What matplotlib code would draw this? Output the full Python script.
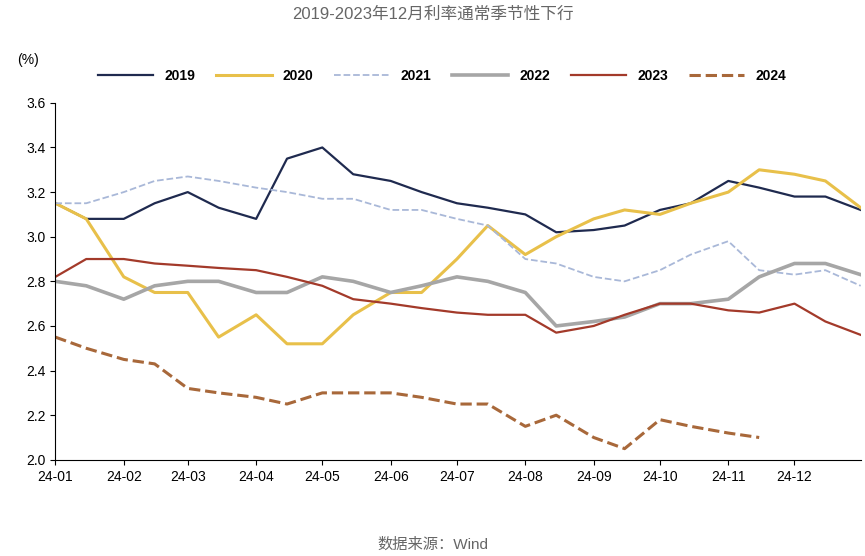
import matplotlib.pyplot as plt
import matplotlib.dates as mdates
import pandas as pd

plt.rcParams['font.family'] = ['Liberation Sans', 'Noto Sans CJK SC', 'DejaVu Sans']

# semi-monthly readings (1st and 15th of each month, then Dec 31)
dates = []
for m in range(1, 13):
    dates.append(pd.Timestamp(2024, m, 1))
    dates.append(pd.Timestamp(2024, m, 15))
dates.append(pd.Timestamp(2024, 12, 31))

y2019 = [3.15, 3.08, 3.08, 3.15, 3.20, 3.13, 3.08, 3.35, 3.40, 3.28, 3.25, 3.20,
         3.15, 3.13, 3.10, 3.02, 3.03, 3.05, 3.12, 3.15, 3.25, 3.22, 3.18, 3.18, 3.12]
y2020 = [3.15, 3.08, 2.82, 2.75, 2.75, 2.55, 2.65, 2.52, 2.52, 2.65, 2.75, 2.75,
         2.90, 3.05, 2.92, 3.00, 3.08, 3.12, 3.10, 3.15, 3.20, 3.30, 3.28, 3.25, 3.13]
y2021 = [3.15, 3.15, 3.20, 3.25, 3.27, 3.25, 3.22, 3.20, 3.17, 3.17, 3.12, 3.12,
         3.08, 3.05, 2.90, 2.88, 2.82, 2.80, 2.85, 2.92, 2.98, 2.85, 2.83, 2.85, 2.78]
y2022 = [2.80, 2.78, 2.72, 2.78, 2.80, 2.80, 2.75, 2.75, 2.82, 2.80, 2.75, 2.78,
         2.82, 2.80, 2.75, 2.60, 2.62, 2.64, 2.70, 2.70, 2.72, 2.82, 2.88, 2.88, 2.83]
y2023 = [2.82, 2.90, 2.90, 2.88, 2.87, 2.86, 2.85, 2.82, 2.78, 2.72, 2.70, 2.68,
         2.66, 2.65, 2.65, 2.57, 2.60, 2.65, 2.70, 2.70, 2.67, 2.66, 2.70, 2.62, 2.56]
y2024 = [2.55, 2.50, 2.45, 2.43, 2.32, 2.30, 2.28, 2.25, 2.30, 2.30, 2.30, 2.28,
         2.25, 2.25, 2.15, 2.20, 2.10, 2.05, 2.18, 2.15, 2.12, 2.10]

fig = plt.figure(figsize=(8.65, 5.56), dpi=100)
ax = fig.add_axes([0.064, 0.173, 0.931, 0.642])

ax.plot(dates, y2019, color='#1f2a4f', lw=1.6, label='2019')
ax.plot(dates, y2020, color='#e8c04a', lw=2.2, label='2020')
ax.plot(dates, y2021, color='#a9b8d8', lw=1.3, ls='--', label='2021')
ax.plot(dates, y2022, color='#a6a6a6', lw=2.6, label='2022')
ax.plot(dates, y2023, color='#a33a2a', lw=1.6, label='2023')
ax.plot(dates[:len(y2024)], y2024, color='#a8683a', lw=2.2, ls='--', label='2024')

ax.set_xlim(pd.Timestamp(2024, 1, 1), pd.Timestamp(2024, 12, 31))
ax.set_ylim(2.0, 3.6)
ax.set_yticks([2.0, 2.2, 2.4, 2.6, 2.8, 3.0, 3.2, 3.4, 3.6])
ax.xaxis.set_major_locator(mdates.MonthLocator())
ax.xaxis.set_major_formatter(mdates.DateFormatter('%y-%m'))
ax.tick_params(labelsize=10, direction='out')
for s in ['top', 'right']:
    ax.spines[s].set_visible(False)

leg = ax.legend(loc='lower center', bbox_to_anchor=(0.48, 1.02), ncol=6, frameon=False,
                fontsize=10, handlelength=4, columnspacing=1.5)
for t in leg.get_texts():
    t.set_fontweight('bold')
fig.text(0.02, 0.885, '(%)', fontsize=10)
fig.text(0.5, 0.975, '2019-2023年12月利率通常季节性下行', ha='center', va='center',
         fontsize=12, color='#666666')
fig.text(0.5, 0.02, '数据来源：Wind', ha='center', va='center', fontsize=11, color='#666666')

fig.savefig('out.png', dpi=100)
